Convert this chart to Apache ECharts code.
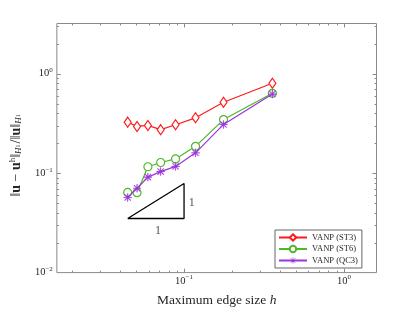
<!DOCTYPE html>
<html><head><meta charset="utf-8">
<script src="https://cdn.jsdelivr.net/npm/echarts@6/dist/echarts.min.js"></script>
<style>html,body{margin:0;padding:0;background:#fff}#c{width:415px;height:312px}</style>
</head><body><div id="c"></div>
<script>
// ---- data ----
const h = [0.0444, 0.0508, 0.0594, 0.0714, 0.0885, 0.118, 0.1766, 0.357];
const errST3 = [0.326, 0.295, 0.302, 0.274, 0.307, 0.360, 0.517, 0.802];
const errST6 = [0.064, 0.0636, 0.116, 0.128, 0.139, 0.186, 0.346, 0.635];
const errQC3 = [0.057, 0.0705, 0.0913, 0.1037, 0.117, 0.160, 0.309, 0.625];
const seriesNames = ['VANP (ST3)', 'VANP (ST6)', 'VANP (QC3)'];
const triX = [0.0444, 0.1, 0.1, 0.0444];
const triY = [0.035, 0.035, 0.0788, 0.035];
const slopeText = ['1', '1'];
const slopeX = [0.1116, 0.0687];
const slopeY = [0.0498, 0.0263];
const xRange = [0.016, 1.6];
const yRange = [0.01, 3.2];

// ---- chart ----
const GRAY = '#8a8a8a';
const TXT = '#262626';
const SERIF = '"Liberation Serif", "DejaVu Serif", serif';
const pair = (xs, ys) => xs.map((x, i) => [x, ys[i]]);
const expLabel = v => {
  const l = Math.log10(v), e = Math.round(l);
  if (Math.abs(l - e) > 1e-6) return '';
  return '{b|10}{s|' + (e < 0 ? '\u2212' + (-e) : e) + '}';
};
const labelRich = {
  b: {fontSize: 10.5, fontFamily: SERIF, color: TXT, lineHeight: 11},
  s: {fontSize: 7, fontFamily: SERIF, color: TXT, lineHeight: 7, padding: [0, 0, 7, 0]}
};
const asterisk = 'path://M9.1,0L10.9,0L10.9,20L9.1,20ZM0,9.1L20,9.1L20,10.9L0,10.9ZM1.8,3.1L3.1,1.8L18.2,16.9L16.9,18.2ZM16.9,1.8L18.2,3.1L3.1,18.2L1.8,16.9Z';

function tickRender(params, api) {
  const children = [];
  const bl = api.coord([xRange[0], yRange[0]]);
  const tr = api.coord([xRange[1], yRange[1]]);
  const st = {stroke: GRAY, lineWidth: 1};
  for (let d = -3; d <= 1; d++) {
    for (let k = 1; k <= 9; k++) {
      const v = k * Math.pow(10, d);
      const L = k === 1 ? 4 : 2;
      if (v > xRange[0] * 1.0001 && v < xRange[1] * 0.9999) {
        const px = Math.round(api.coord([v, yRange[0]])[0]) + 0.5;
        children.push({type: 'line', shape: {x1: px, y1: bl[1], x2: px, y2: bl[1] - L}, style: st});
        children.push({type: 'line', shape: {x1: px, y1: tr[1], x2: px, y2: tr[1] + L}, style: st});
      }
      if (v > yRange[0] * 1.0001 && v < yRange[1] * 0.9999) {
        const py = Math.round(api.coord([xRange[0], v])[1]) + 0.5;
        children.push({type: 'line', shape: {x1: bl[0], y1: py, x2: bl[0] + L, y2: py}, style: st});
        children.push({type: 'line', shape: {x1: tr[0], y1: py, x2: tr[0] - L, y2: py}, style: st});
      }
    }
  }
  return {type: 'group', children};
}

const chart = echarts.init(document.getElementById('c'), null, {renderer: 'canvas'});
chart.setOption({
  animation: false,
  backgroundColor: '#fff',
  grid: {left: 54, top: 23.5, width: 322.5, height: 252.5, show: true, borderColor: GRAY, borderWidth: 1, backgroundColor: 'transparent'},
  xAxis: {
    type: 'log', logBase: 10, min: xRange[0], max: xRange[1],
    axisLine: {show: false}, axisTick: {show: false}, splitLine: {show: false},
    axisLabel: {formatter: expLabel, rich: labelRich, margin: 3, showMinLabel: false, showMaxLabel: false},
    name: 'Maximum edge size {i|h}', nameLocation: 'middle', nameGap: 19,
    nameTextStyle: {fontSize: 13.5, fontFamily: SERIF, color: TXT,
      rich: {i: {fontSize: 13.5, fontFamily: SERIF, fontStyle: 'italic', color: TXT}}}
  },
  yAxis: {
    type: 'log', logBase: 10, min: yRange[0], max: yRange[1],
    axisLine: {show: false}, axisTick: {show: false}, splitLine: {show: false},
    axisLabel: {formatter: expLabel, rich: labelRich, margin: 4, showMinLabel: true, showMaxLabel: false},
    name: '{n|\u2016}{b|u}{n| \u2212 }{b|u}{sup|h}{n|\u2016}{sub|H}{ss|1}{n|/\u2016}{b|u}{n|\u2016}{sub|H}{ss|1}',
    nameLocation: 'middle', nameGap: 28, nameRotate: 90,
    nameTextStyle: {fontSize: 14, fontFamily: SERIF, color: TXT, padding: [0, 14, 0, 0],
      rich: {
        n: {fontSize: 14, fontFamily: SERIF, color: TXT, lineHeight: 15},
        b: {fontSize: 14, fontFamily: SERIF, fontWeight: 'bold', color: TXT, lineHeight: 15},
        sup: {fontSize: 9, fontFamily: SERIF, color: TXT, lineHeight: 9, padding: [0, 0, 7, 0]},
        sub: {fontSize: 9, fontFamily: SERIF, fontStyle: 'italic', color: TXT, lineHeight: 9, padding: [6, 0, 0, 0]},
        ss: {fontSize: 6, fontFamily: SERIF, color: TXT, lineHeight: 6, padding: [4, 1, 0, 0]}
      }}
  },
  legend: {
    data: [
      {name: seriesNames[0]},
      {name: seriesNames[1]},
      {name: seriesNames[2], itemStyle: {borderWidth: 0}}
    ],
    orient: 'vertical', left: 275, top: 230,
    backgroundColor: '#fff', borderColor: '#666', borderWidth: 1, borderRadius: 0,
    padding: [3, 4, 3, 3], itemWidth: 28, itemHeight: 8, itemGap: 2.5,
    textStyle: {fontSize: 8.5, fontFamily: SERIF, color: TXT, lineHeight: 9}
  },
  series: [
    {name: seriesNames[0], type: 'line', data: pair(h, errST3), symbol: 'diamond', symbolSize: [7, 10],
      lineStyle: {color: '#ff1a1a', width: 1.2}, itemStyle: {color: '#fff', borderColor: '#ff1a1a', borderWidth: 1.2}, z: 3},
    {name: seriesNames[1], type: 'line', data: pair(h, errST6), symbol: 'circle', symbolSize: 8,
      lineStyle: {color: '#4db82a', width: 1.2}, itemStyle: {color: '#fff', borderColor: '#4db82a', borderWidth: 1.2}, z: 4},
    {name: seriesNames[2], type: 'line', data: pair(h, errQC3), symbol: asterisk, symbolSize: 8,
      lineStyle: {color: '#9a35d9', width: 1.2}, itemStyle: {color: '#9a35d9', borderColor: '#9a35d9', borderWidth: 0.3}, z: 5},
    {type: 'line', data: pair(triX, triY), symbol: 'none', lineStyle: {color: '#000', width: 1.3}, silent: true, z: 2},
    {type: 'scatter', data: pair(slopeX, slopeY).map((p, i) => ({value: p, label: {formatter: slopeText[i]}})),
      symbolSize: 0, silent: true,
      label: {show: true, position: 'inside', fontSize: 12, fontFamily: SERIF, color: TXT}, z: 2},
    {type: 'custom', data: [[0.1, 0.1]], renderItem: tickRender, silent: true, z: 10}
  ]
});
</script></body></html>
